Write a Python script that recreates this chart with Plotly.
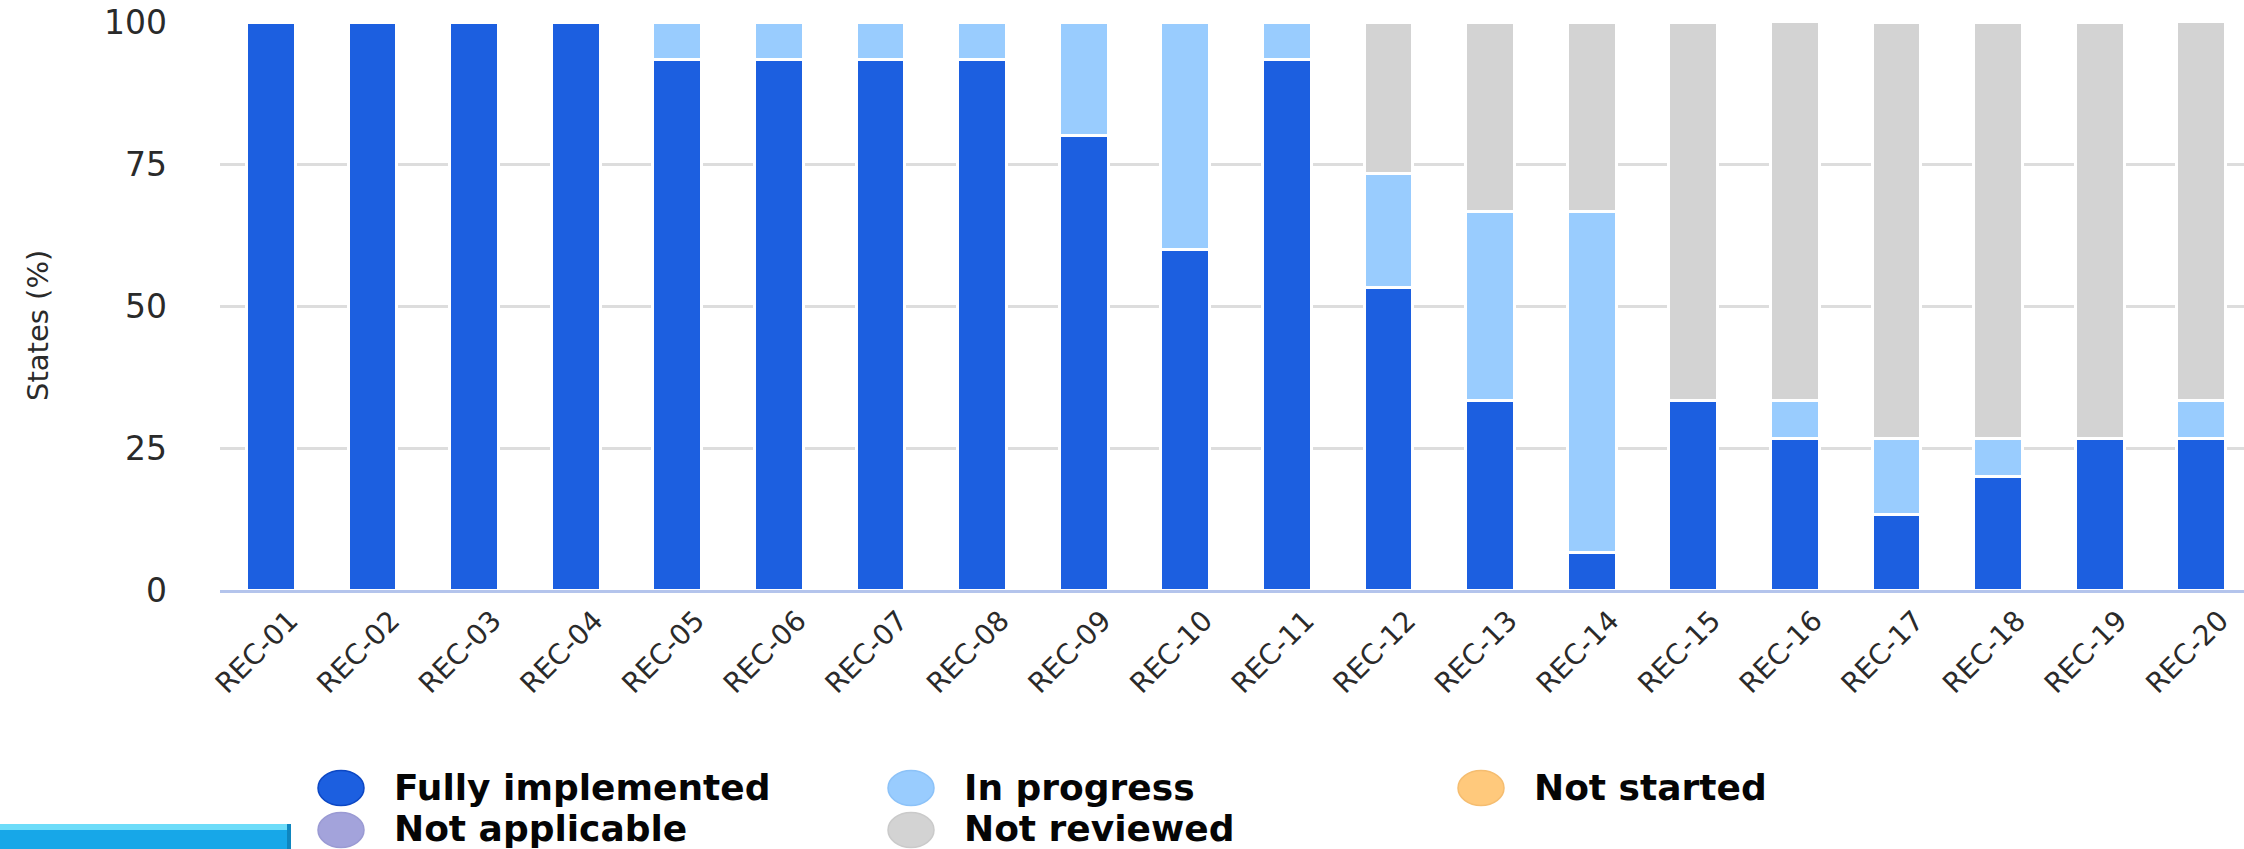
import plotly.graph_objects as go

# ---------------- data ----------------
categories = ["REC-01", "REC-02", "REC-03", "REC-04", "REC-05", "REC-06", "REC-07",
              "REC-08", "REC-09", "REC-10", "REC-11", "REC-12", "REC-13", "REC-14",
              "REC-15", "REC-16", "REC-17", "REC-18", "REC-19", "REC-20"]

fully_implemented = [100, 100, 100, 100, 93.33, 93.33, 93.33, 93.33, 80, 60,
                     93.33, 53.33, 33.33, 6.67, 33.33, 26.67, 13.33, 20, 26.67, 26.67]
in_progress = [0, 0, 0, 0, 6.67, 6.67, 6.67, 6.67, 20, 40,
               6.67, 20, 33.33, 60, 0, 6.67, 13.33, 6.67, 0, 6.67]
not_started = [0, 0, 0, 0, 0, 0, 0, 0, 0, 0,
               0, 0, 0, 0, 0, 0, 0, 0, 0, 0]
not_applicable = [0, 0, 0, 0, 0, 0, 0, 0, 0, 0,
                  0, 0, 0, 0, 0, 0, 0, 0, 0, 0]
not_reviewed = [0, 0, 0, 0, 0, 0, 0, 0, 0, 0,
                0, 26.67, 33.33, 33.33, 66.67, 66.67, 73.33, 73.33, 73.33, 66.67]

series_names = ["Fully implemented", "In progress", "Not started", "Not applicable", "Not reviewed"]
series_values = [fully_implemented, in_progress, not_started, not_applicable, not_reviewed]
series_colors = ["#1c5fe0", "#99ccfe", "#ffc97c", "#a3a3db", "#d3d3d3"]
legend_edge = ["#0c47c4", "#8cc2f8", "#f5bd70", "#9a9ad3", "#cacaca"]

y_ticks = [0, 25, 50, 75, 100]
y_title = "States (%)"

# ---------------- geometry (pixels) ----------------
W, H = 2244, 849
ML, MT = 220, 22
PB = 590  # pixel row of y = 0
MR = 0
MB = H - PB
PW = W - ML - MR
PH = PB - MT


def px_x(x):
    return (x - ML) / PW


def px_y(y):
    return (PB - y) / PH


fig = go.Figure()
for name, vals, col in zip(series_names, series_values, series_colors):
    fig.add_trace(go.Bar(
        x=categories,
        y=[v if v else None for v in vals],
        name=name,
        marker=dict(color=col, line=dict(color="white", width=3)),
        showlegend=False,
    ))

# ---------------- manual legend (circles + labels) ----------------
col_x = [341, 911, 1481]
row_y = [788, 830]
text_y = [787, 828]
for i, (name, col, edge) in enumerate(zip(series_names, series_colors, legend_edge)):
    r, c = divmod(i, 3)
    cx, cy = col_x[c], row_y[r]
    fig.add_shape(type="circle", xref="paper", yref="paper",
                  xsizemode="pixel", ysizemode="pixel",
                  xanchor=px_x(cx), yanchor=px_y(cy),
                  x0=-23, x1=23, y0=-17.5, y1=17.5,
                  fillcolor=col, line=dict(color=edge, width=1.5), layer="above")
    fig.add_annotation(text=name, xref="paper", yref="paper",
                       x=px_x(cx + 51), y=px_y(text_y[r]),
                       xanchor="left", yanchor="middle", showarrow=False,
                       font=dict(family="DejaVu Sans", size=36, color="#050505", weight="bold"))

# ---------------- y axis title ----------------
fig.add_annotation(text=y_title, xref="paper", yref="paper",
                   x=px_x(38), y=px_y(326), textangle=-90,
                   xanchor="center", yanchor="middle", showarrow=False,
                   font=dict(family="DejaVu Sans", size=29, color="#2a2a2a"))

# ---------------- blue button fragment (bottom-left) ----------------
fig.add_shape(type="rect", xref="paper", yref="paper",
              x0=px_x(-5), x1=px_x(291), y0=px_y(880), y1=px_y(824),
              fillcolor="#17a7e8", line=dict(width=0), layer="above")
fig.add_shape(type="rect", xref="paper", yref="paper",
              x0=px_x(-5), x1=px_x(291), y0=px_y(830), y1=px_y(824),
              fillcolor="#6ddcf9", line=dict(width=0), layer="above")
fig.add_shape(type="rect", xref="paper", yref="paper",
              x0=px_x(287), x1=px_x(291), y0=px_y(880), y1=px_y(824),
              fillcolor="#0f86bf", line=dict(width=0), layer="above")

fig.update_layout(
    width=W, height=H,
    margin=dict(l=ML, r=MR, t=MT, b=MB, autoexpand=False),
    paper_bgcolor="white", plot_bgcolor="white",
    barmode="stack", bargap=0.52,
    showlegend=False,
    font=dict(family="DejaVu Sans", color="#333333"),
)

fig.update_xaxes(
    type="category",
    range=[-0.5, 19.42],
    showgrid=False, zeroline=False,
    showline=True, linecolor="#b4c4ec", linewidth=3,
    ticks="", tickangle=-45,
    tickfont=dict(family="DejaVu Sans", size=28, color="#2a2a2a"),
    automargin=False,
    ticklabelstandoff=0,
    ticklabelshift=19,
)

fig.update_yaxes(
    range=[0, 100],
    tickvals=y_ticks,
    ticktext=[str(t) for t in y_ticks],
    showgrid=True, gridcolor="#dddddd", gridwidth=3,
    zeroline=False, showline=False,
    ticks="",
    tickfont=dict(family="DejaVu Sans", size=33, color="#2a2a2a"),
    ticklabelstandoff=52,
    automargin=False,
)

fig.write_html("out.html",
               config={"displayModeBar": False},
               post_script="document.body.style.margin='0';document.body.style.overflow='hidden';")
